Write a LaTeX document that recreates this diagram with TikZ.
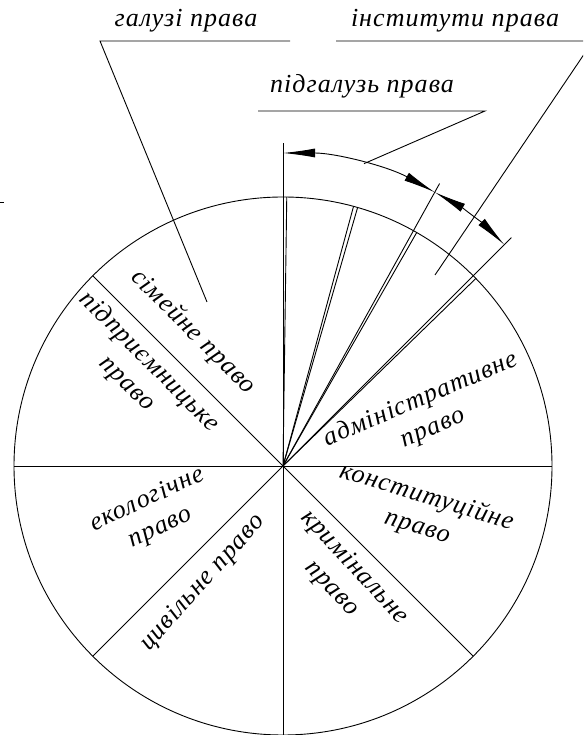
\documentclass[tikz,border=0pt]{standalone}
\usepackage{fontspec}
\setmainfont{Liberation Serif}[LetterSpace = 4]
\usetikzlibrary{arrows.meta,calc}

\begin{document}
\begin{tikzpicture} [
      x = 1pt, y = 1pt,
      line width = 0.9pt,
      every node/.style = {font = \itshape\fontsize{26}{31}\selectfont, inner sep = 0, align = center},
      dimarrow/.style = {{Latex[length = 32pt, width = 9pt]}-{Latex[length = 32pt, width = 9pt]}}
      ]
      \useasboundingbox (0,0) rectangle (583,735);
      \clip (0,0) rectangle (583,735);
      \coordinate (o) at (283,269);

      % circle and sectors
      \draw (o) circle [radius = 269];
      \draw ($(o)+(180:269)$) -- ($(o)+(0:269)$);
      \draw ($(o)+(270:269)$) -- ($(o)+(90:323)$);
      \foreach \a in {135, 225, 315} \draw (o) -- ++(\a:269);

      % fan of institutes
      \foreach \a in {89.2, 74.8, 73.9, 60.2, 44.2} \draw (o) -- ++(\a:269);
      \draw (o) -- ++(61:323);
      \draw (o) -- ++(45:323);
      \draw[dimarrow] ($(o)+(90:313)$) arc [start angle = 90, end angle = 61, radius = 313];
      \draw[dimarrow] ($(o)+(61:313)$) arc [start angle = 61, end angle = 45, radius = 313];

      % headings
      \node (galuzi) [anchor = base] at (186,708) {галузі права};
      \coordinate (galuzi-a) at (100,694);
      \coordinate (galuzi-b) at (290,694);
      \coordinate (galuzi-end) at (207,433);
      \draw (galuzi-b) -- (galuzi-a) -- (galuzi-end);

      \node (instytuty) [anchor = base] at (455,708) {інститути права};
      \coordinate (instytuty-a) at (336,694);
      \coordinate (instytuty-b) at (593,694);
      \coordinate (instytuty-end) at (435,460);
      \draw (instytuty-a) -- (instytuty-b) -- (instytuty-end);

      \node (pidgaluz) [anchor = base] at (362,642) {підгалузь права};
      \coordinate (pidgaluz-a) at (258,624);
      \coordinate (pidgaluz-b) at (485,624);
      \coordinate (pidgaluz-end) at ($(o)+(75:313)$);
      \draw (pidgaluz-a) -- (pidgaluz-b) -- (pidgaluz-end);

      \draw (0,533) -- (4,533);

      % sectors
      \node (simeine) [rotate = -45] at (193,403) {сімейне право};
      \node (pidpryiem) [rotate = -45] at (138,362) {підприємницьке\\право};
      \node (admin) [rotate = 23] at (427,321) {адміністративне\\право};
      \node (konst) [rotate = -17] at (422,223) {конституційне\\право};
      \node (kryminal) [rotate = -47] at (343,157) {кримінальне\\право};
      \node (tsyvil) [rotate = 48] at (203,152) {цивільне право};
      \node (ekolog) [rotate = 25] at (154,221) {екологічне\\право};
    \end{tikzpicture}
\end{document}
